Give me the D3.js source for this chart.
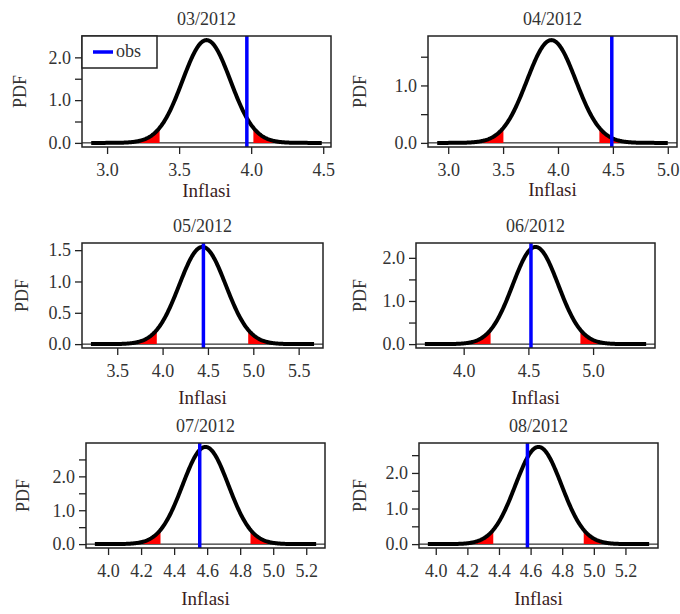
<!DOCTYPE html>
<html>
<head>
<meta charset="utf-8">
<script src="https://cdn.jsdelivr.net/npm/d3@7"></script>
<style>
  body { margin: 0; background: #fff; }
  svg text { font-family: "Liberation Serif", "Times New Roman", Times, "DejaVu Serif", serif !important; }
</style>
</head>
<body>
<div id="chart"></div>
<script>
// Data
var titles = ["03/2012", "04/2012", "05/2012", "06/2012", "07/2012", "08/2012"];
var means = [3.69, 3.94, 4.44, 4.555, 4.59, 4.65];
var sds = [0.166, 0.223, 0.257, 0.177, 0.139, 0.146];
var observed = [3.97, 4.49, 4.45, 4.52, 4.555, 4.58];
var curveFrom = [2.89, 2.90, 3.21, 3.70, 3.92, 3.95];
var curveTo = [4.49, 5.00, 5.67, 5.41, 5.26, 5.35];
var tailZ = [1.96, 3.09]; // red shading between these z-scores on each side

var xTicks = [
  [3.0, 3.5, 4.0, 4.5],
  [3.0, 3.5, 4.0, 4.5, 5.0],
  [3.5, 4.0, 4.5, 5.0, 5.5],
  [4.0, 4.5, 5.0],
  [4.0, 4.2, 4.4, 4.6, 4.8, 5.0, 5.2],
  [4.0, 4.2, 4.4, 4.6, 4.8, 5.0, 5.2]
];
var yTicks = [
  [0, 0.5, 1, 1.5, 2],
  [0, 0.5, 1, 1.5],
  [0, 0.5, 1, 1.5],
  [0, 0.5, 1, 1.5, 2],
  [0, 0.5, 1, 1.5, 2, 2.5],
  [0, 0.5, 1, 1.5, 2, 2.5]
];
var yLabelled = [
  [0, 1, 2],
  [0, 1],
  [0, 0.5, 1, 1.5],
  [0, 1, 2],
  [0, 1, 2],
  [0, 1, 2]
];

// Panel layout (box in page pixels)
var boxes = [
  {x0: 82, x1: 331, y0: 36, y1: 147, xlab: 50, ylabX: 26},
  {x0: 428, x1: 677, y0: 36, y1: 147, xlab: 49, ylabX: 366},
  {x0: 82, x1: 323, y0: 243, y1: 348, xlab: 56, ylabX: 28},
  {x0: 416, x1: 655, y0: 243, y1: 348, xlab: 56, ylabX: 366},
  {x0: 86, x1: 325, y0: 443, y1: 548, xlab: 57, ylabX: 29},
  {x0: 419, x1: 658, y0: 443, y1: 548, xlab: 57, ylabX: 366}
];

var svg = d3.select("#chart").append("svg")
  .attr("width", 680)
  .attr("height", 614);

function dnorm(x, m, s) {
  var z = (x - m) / s;
  return Math.exp(-0.5 * z * z) / (s * Math.sqrt(2 * Math.PI));
}

titles.forEach(function(title, i) {
  var b = boxes[i];
  var m = means[i], s = sds[i];

  // R style 4% padding around the data range
  var pad = (curveTo[i] - curveFrom[i]) * 0.04;
  var x = d3.scaleLinear()
    .domain([curveFrom[i] - pad, curveTo[i] + pad])
    .range([b.x0, b.x1]);
  var peak = dnorm(m, m, s);
  var y = d3.scaleLinear()
    .domain([-peak * 0.04, peak * 1.04])
    .range([b.y1, b.y0]);

  var g = svg.append("g");
  var clipId = "clip" + i;
  g.append("clipPath").attr("id", clipId)
    .append("rect")
    .attr("x", b.x0).attr("y", b.y0)
    .attr("width", b.x1 - b.x0).attr("height", b.y1 - b.y0);

  var plot = g.append("g").attr("clip-path", "url(#" + clipId + ")");

  // zero line
  plot.append("line")
    .attr("x1", b.x0).attr("x2", b.x1)
    .attr("y1", y(0)).attr("y2", y(0))
    .attr("stroke", "#000").attr("stroke-width", 1);

  var area = d3.area()
    .x(function(d) { return x(d); })
    .y0(y(0))
    .y1(function(d) { return y(dnorm(d, m, s)); });

  // red tails
  [[m - tailZ[1] * s, m - tailZ[0] * s], [m + tailZ[0] * s, m + tailZ[1] * s]].forEach(function(r) {
    var pts = d3.range(0, 41).map(function(k) { return r[0] + (r[1] - r[0]) * k / 40; });
    plot.append("path")
      .datum(pts)
      .attr("d", area)
      .attr("fill", "#ff0000");
  });

  // density curve
  var pts = d3.range(0, 301).map(function(k) {
    return curveFrom[i] + (curveTo[i] - curveFrom[i]) * k / 300;
  });
  plot.append("path")
    .datum(pts)
    .attr("d", d3.line()
      .x(function(d) { return x(d); })
      .y(function(d) { return y(dnorm(d, m, s)); }))
    .attr("fill", "none")
    .attr("stroke", "#000")
    .attr("stroke-width", 4)
    .attr("stroke-linejoin", "round");

  // observed value
  plot.append("line")
    .attr("x1", x(observed[i])).attr("x2", x(observed[i]))
    .attr("y1", b.y0).attr("y2", b.y1)
    .attr("stroke", "#0000ff").attr("stroke-width", 3.5);

  // axes
  var xAxis = d3.axisBottom(x)
    .tickValues(xTicks[i])
    .tickSize(7)
    .tickPadding(9)
    .tickFormat(d3.format(".1f"));
  var gx = g.append("g")
    .attr("transform", "translate(0," + b.y1 + ")")
    .call(xAxis);

  var yAxis = d3.axisLeft(y)
    .tickValues(yTicks[i])
    .tickSize(7)
    .tickPadding(4)
    .tickFormat(function(d) {
      return yLabelled[i].indexOf(d) >= 0 ? d3.format(".1f")(d) : "";
    });
  var gy = g.append("g")
    .attr("transform", "translate(" + b.x0 + ",0)")
    .call(yAxis);

  [gx, gy].forEach(function(a) {
    a.attr("font-family", null);
    a.select(".domain").remove();
    a.selectAll("line").attr("stroke", "#222").attr("stroke-width", 1.3);
    a.selectAll("text")
      .attr("font-size", 18)
      .attr("fill", "#333");
  });

  // box
  g.append("rect")
    .attr("x", b.x0).attr("y", b.y0)
    .attr("width", b.x1 - b.x0).attr("height", b.y1 - b.y0)
    .attr("fill", "none")
    .attr("stroke", "#222")
    .attr("stroke-width", 1.5);

  // title
  g.append("text")
    .attr("x", (b.x0 + b.x1) / 2)
    .attr("y", b.y0 - 11)
    .attr("text-anchor", "middle")
    .attr("font-size", 18)
    .attr("fill", "#333")
    .text(title);

  // axis labels
  g.append("text")
    .attr("x", (b.x0 + b.x1) / 2)
    .attr("y", b.y1 + b.xlab)
    .attr("text-anchor", "middle")
    .attr("font-size", 19)
    .attr("fill", "#3a1c1c")
    .text("Inflasi");

  g.append("text")
    .attr("transform", "translate(" + b.ylabX + "," + ((b.y0 + b.y1) / 2) + ") rotate(-90)")
    .attr("text-anchor", "middle")
    .attr("font-size", 18)
    .attr("fill", "#333")
    .text("PDF");

  // legend, first panel only
  if (i === 0) {
    var leg = g.append("g");
    leg.append("rect")
      .attr("x", b.x0).attr("y", b.y0)
      .attr("width", 75).attr("height", 32)
      .attr("fill", "#fff")
      .attr("stroke", "#222")
      .attr("stroke-width", 1.5);
    leg.append("line")
      .attr("x1", b.x0 + 11).attr("x2", b.x0 + 31)
      .attr("y1", b.y0 + 16).attr("y2", b.y0 + 16)
      .attr("stroke", "#0000ff").attr("stroke-width", 3.5);
    leg.append("text")
      .attr("x", b.x0 + 34)
      .attr("y", b.y0 + 21)
      .attr("font-size", 18)
      .attr("fill", "#333")
      .text("obs");
  }
});
</script>
</body>
</html>
